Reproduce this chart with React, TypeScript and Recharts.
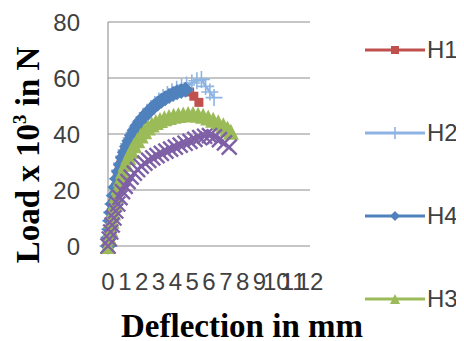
import React from 'react';
import { LineChart, Line, XAxis, YAxis, CartesianGrid, Legend, Label } from 'recharts';

const h1X = [0, 0.05, 0.1, 0.15, 0.2, 0.28, 0.36, 0.45, 0.55, 0.65, 0.76, 0.88, 1.0, 1.13, 1.27, 1.42, 1.58, 1.75, 1.93, 2.12, 2.32, 2.52, 2.73, 2.95, 3.17, 3.4, 3.63, 3.87, 4.1, 4.35, 4.6, 4.85, 5.1, 5.4];
const h1Y = [0, 3, 6, 9, 12, 15, 18, 21, 24, 26.5, 29, 31.5, 33.5, 35.5, 37.5, 39.5, 41.3, 43, 44.6, 46, 47.4, 48.6, 49.8, 50.9, 51.9, 52.8, 53.6, 54.3, 54.9, 55.4, 55.6, 55, 53.5, 51.3];

const h2X = [0, 0.05, 0.1, 0.16, 0.22, 0.3, 0.38, 0.47, 0.57, 0.68, 0.8, 0.93, 1.07, 1.22, 1.38, 1.55, 1.73, 1.92, 2.12, 2.33, 2.55, 2.78, 3.02, 3.27, 3.53, 3.8, 4.08, 4.37, 4.67, 4.98, 5.28, 5.55, 5.8, 6.05, 6.3];
const h2Y = [0, 3, 6, 9, 12, 15, 18, 21, 24, 27, 29.5, 32, 34.3, 36.5, 38.6, 40.6, 42.5, 44.3, 46, 47.6, 49.1, 50.5, 51.8, 53, 54.1, 55.1, 56, 56.8, 57.5, 58.2, 59, 59.5, 57, 55, 53];

const h4X = [0, 0.05, 0.1, 0.15, 0.2, 0.28, 0.36, 0.45, 0.55, 0.65, 0.76, 0.88, 1.0, 1.13, 1.27, 1.42, 1.58, 1.75, 1.93, 2.12, 2.32, 2.52, 2.73, 2.95, 3.17, 3.4, 3.63, 3.87, 4.1, 4.35, 4.6];
const h4Y = [0, 3, 6, 9, 12, 15, 18, 21, 24, 26.5, 29, 31.5, 33.5, 35.5, 37.5, 39.5, 41.3, 43, 44.6, 46, 47.4, 48.6, 49.8, 50.9, 51.9, 52.8, 53.6, 54.3, 54.9, 55.4, 55.8];

const h3X = [0, 0.07, 0.14, 0.22, 0.3, 0.4, 0.5, 0.62, 0.75, 0.89, 1.04, 1.2, 1.37, 1.55, 1.74, 1.94, 2.15, 2.37, 2.6, 2.84, 3.09, 3.35, 3.62, 3.9, 4.18, 4.47, 4.76, 5.05, 5.35, 5.65, 5.95, 6.25, 6.55, 6.85, 7.1, 7.3];
const h3Y = [0, 3, 6, 9, 12, 15, 18, 21, 24, 26.8, 29.4, 31.8, 34, 36, 37.8, 39.5, 41, 42.3, 43.4, 44.3, 45, 45.6, 46.1, 46.5, 46.8, 47, 47.1, 47.1, 46.9, 46.5, 45.9, 45.1, 44.2, 43.1, 42, 40.8];

const h5X = [0, 0.08, 0.16, 0.25, 0.35, 0.46, 0.58, 0.71, 0.86, 1.02, 1.19, 1.37, 1.56, 1.76, 1.97, 2.19, 2.42, 2.66, 2.91, 3.17, 3.44, 3.72, 4.0, 4.29, 4.58, 4.87, 5.16, 5.45, 5.74, 6.03, 6.32, 6.62, 6.92, 7.2];
const h5Y = [0, 2.5, 5, 7.5, 10, 12.5, 15, 17.3, 19.4, 21.3, 23, 24.6, 26, 27.3, 28.5, 29.6, 30.6, 31.5, 32.3, 33.1, 33.9, 34.6, 35.3, 36, 36.7, 37.4, 38.1, 38.7, 39.2, 39.4, 39, 38, 36.8, 35.3];

const xTicks = [0, 1, 2, 3, 4, 5, 6, 7, 8, 9, 10, 11, 12];
const yTicks = [0, 20, 40, 60, 80];

const toPoints = (xs: number[], ys: number[]) => xs.map((x, i) => ({ x, y: ys[i] }));

const seriesList = [
  { name: 'H1', color: '#C0504D', marker: 'square', data: toPoints(h1X, h1Y), inLegend: true },
  { name: 'H2', color: '#8EB4E3', marker: 'plus', data: toPoints(h2X, h2Y), inLegend: true },
  { name: 'H4', color: '#4F81BD', marker: 'diamond', data: toPoints(h4X, h4Y), inLegend: true },
  { name: 'H3', color: '#9BBB59', marker: 'triangle', data: toPoints(h3X, h3Y), inLegend: true },
  { name: 'H5', color: '#7F60A6', marker: 'cross', data: toPoints(h5X, h5Y), inLegend: false },
];

function marker(kind: string, cx: number, cy: number, color: string, s: number, key?: any) {
  if (cx == null || cy == null || isNaN(cx) || isNaN(cy)) return <g key={key} />;
  switch (kind) {
    case 'square':
      return <rect key={key} x={cx - s / 2} y={cy - s / 2} width={s} height={s} fill={color} />;
    case 'plus':
      return (
        <path key={key} d={`M${cx - s / 2},${cy}H${cx + s / 2}M${cx},${cy - s / 2}V${cy + s / 2}`} stroke={color} strokeWidth={1.6} fill="none" />
      );
    case 'diamond':
      return <path key={key} d={`M${cx},${cy - s / 2}L${cx + s / 2},${cy}L${cx},${cy + s / 2}L${cx - s / 2},${cy}Z`} fill={color} />;
    case 'triangle':
      return <path key={key} d={`M${cx},${cy - s / 2}L${cx + s / 2},${cy + s / 2}L${cx - s / 2},${cy + s / 2}Z`} fill={color} />;
    case 'cross':
    default:
      return (
        <path key={key} d={`M${cx - s / 2},${cy - s / 2}L${cx + s / 2},${cy + s / 2}M${cx - s / 2},${cy + s / 2}L${cx + s / 2},${cy - s / 2}`} stroke={color} strokeWidth={2.4} fill="none" />
      );
  }
}

const markerSize: Record<string, number> = { square: 9, plus: 17, diamond: 16, triangle: 16, cross: 15 };
const legendMarkerSize: Record<string, number> = { square: 8, plus: 12, diamond: 10, triangle: 10, cross: 10 };

const XTitle = () => (
  <text x={234} y={329} textAnchor="middle" fontFamily="Liberation Serif" fontWeight="bold" fontSize={33} fill="#000">
    Deflection in mm
  </text>
);

const YTitle = () => (
  <text transform="translate(31,147) rotate(-90)" textAnchor="middle" fontFamily="Liberation Serif" fontWeight="bold" fontSize={33} fill="#000">
    Load x 10<tspan dy={-13} fontSize={19}>3</tspan>
    <tspan dy={13}>{'  in N'}</tspan>
  </text>
);

const LegendContent = () => (
  <div style={{ width: 110 }}>
    {seriesList
      .filter((s) => s.inLegend)
      .map((s) => (
        <div key={s.name} style={{ height: 83, display: 'flex', alignItems: 'center' }}>
          <svg width={60} height={20} style={{ display: 'block' }}>
            <line x1={0} y1={10} x2={60} y2={10} stroke={s.color} strokeWidth={3} />
            {marker(s.marker, 30, 10, s.color, legendMarkerSize[s.marker])}
          </svg>
          <span style={{ fontFamily: 'Liberation Sans', fontSize: 24, color: '#404040', marginLeft: 2, lineHeight: '24px' }}>{s.name}</span>
        </div>
      ))}
  </div>
);

export default function App() {
  return (
    <LineChart width={464} height={341} margin={{ top: 14, right: 162, bottom: 0, left: 0 }}>
      <CartesianGrid vertical={false} stroke="#8c8c8c" />
      <XAxis
        dataKey="x"
        type="number"
        domain={[0, 12]}
        ticks={xTicks}
        interval={0}
        tickLine={false}
        axisLine={false}
        tickSize={0}
        tickMargin={27}
        height={103}
        allowDuplicatedCategory={false}
        tick={{ fontSize: 24, fill: '#404040', fontFamily: 'Liberation Sans' }}
      >
        <Label content={XTitle} />
      </XAxis>
      <YAxis
        type="number"
        domain={[0, 80]}
        ticks={yTicks}
        width={100}
        tickLine={false}
        tickSize={0}
        tickMargin={28}
        axisLine={{ stroke: '#868686' }}
        tick={{ fontSize: 24, fill: '#404040', fontFamily: 'Liberation Sans' }}
      >
        <Label content={YTitle} />
      </YAxis>
      {seriesList.map((s) => (
        <Line
          key={s.name}
          name={s.name}
          data={s.data}
          dataKey="y"
          stroke={s.color}
          strokeWidth={2.5}
          isAnimationActive={false}
          legendType={s.inLegend ? 'line' : 'none'}
          activeDot={false}
          dot={(p: any) => marker(s.marker, p.cx, p.cy, s.color, markerSize[s.marker], `${s.name}-${p.index}`)}
        />
      ))}
      <Legend layout="horizontal" verticalAlign="middle" content={LegendContent} wrapperStyle={{ top: 0, left: 357, width: 110 }} />
    </LineChart>
  );
}
